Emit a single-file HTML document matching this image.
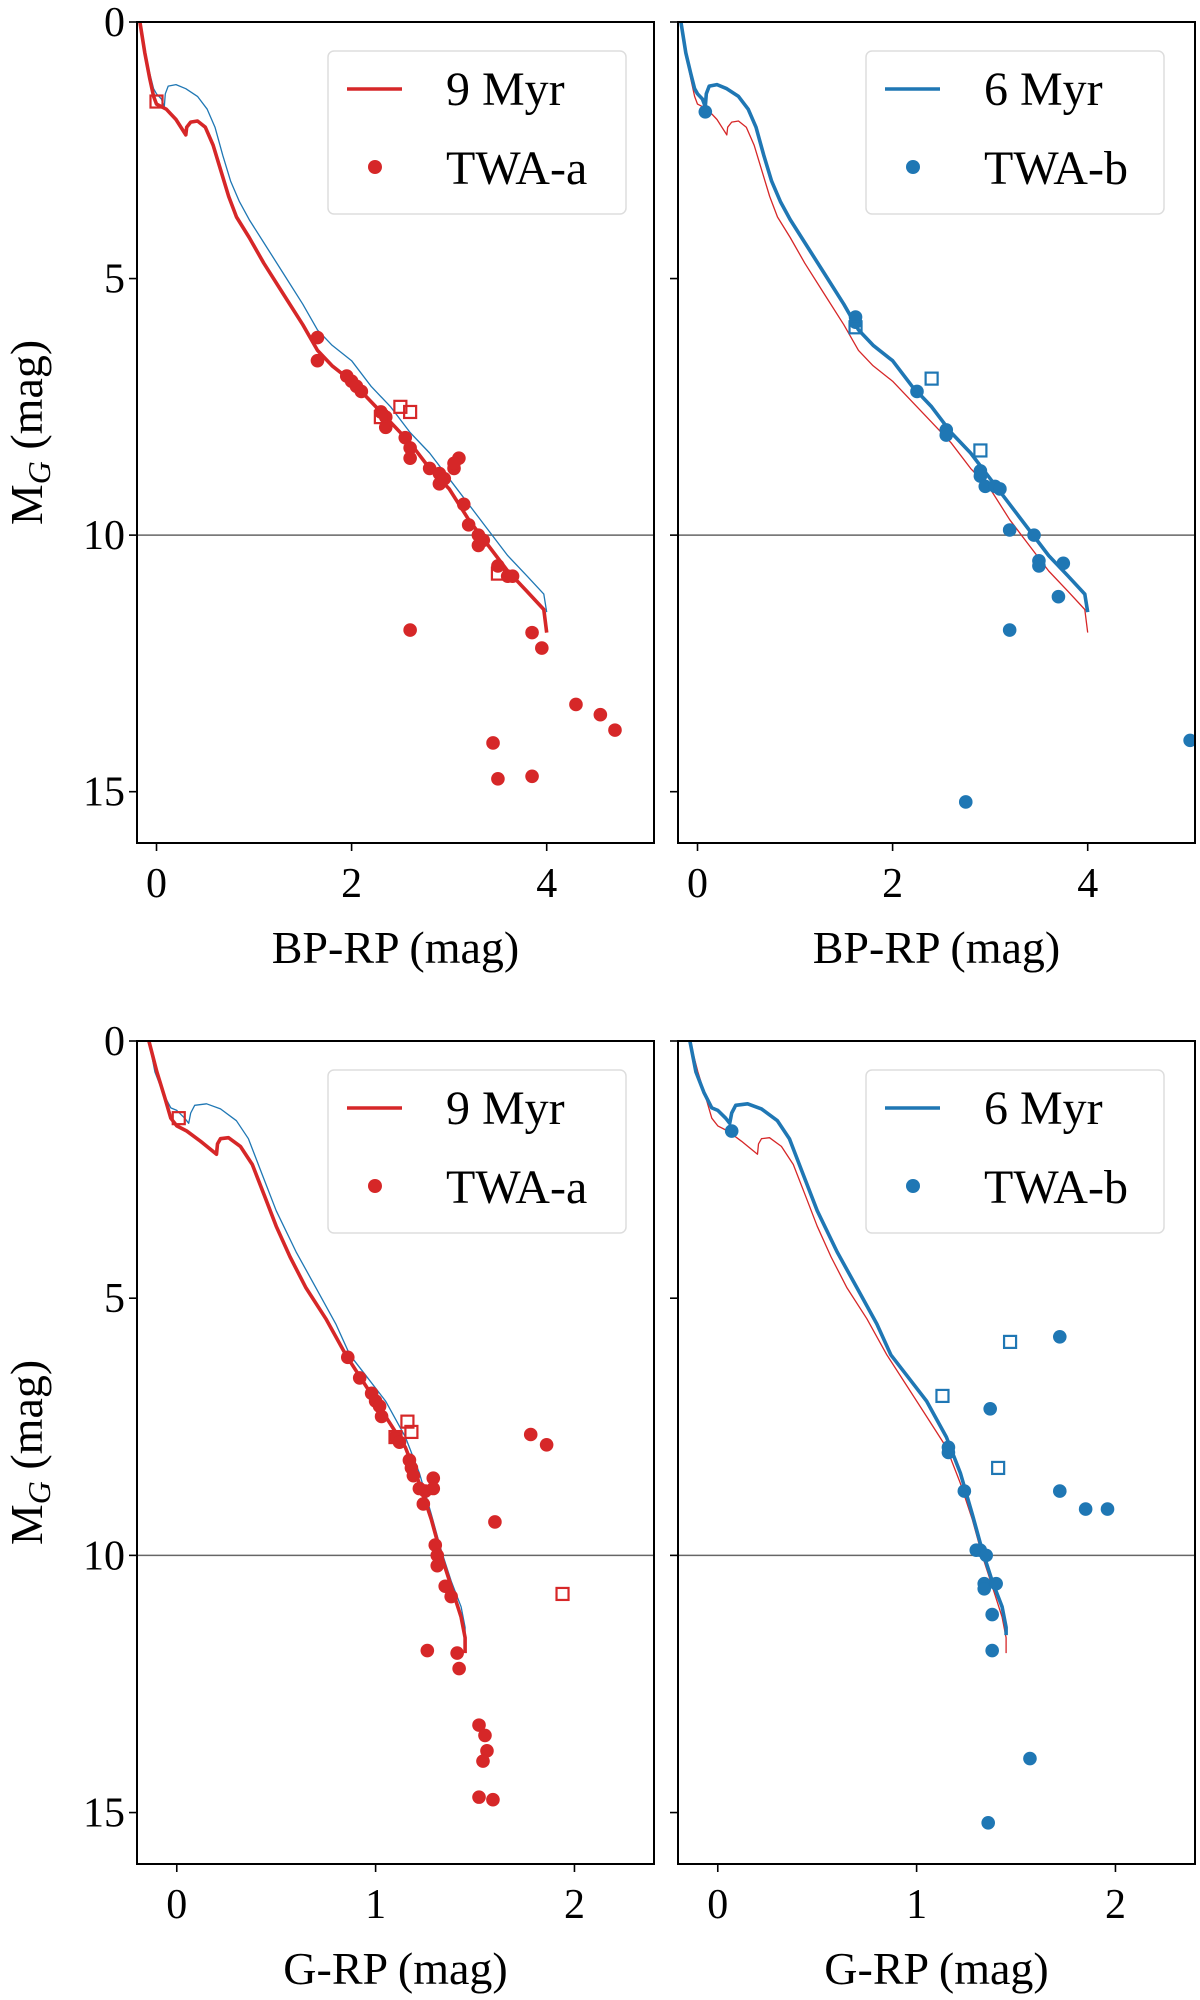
<!DOCTYPE html>
<html><head><meta charset="utf-8"><style>
html,body{margin:0;padding:0;background:#fff;}
svg{display:block;}
svg text{font-family:"Liberation Serif","DejaVu Serif",serif;}
</style></head><body>
<svg id="fig" width="1200" height="2000" viewBox="0 0 1200 2000" font-family="Liberation Serif, DejaVu Serif, serif" xmlns="http://www.w3.org/2000/svg"></svg>
<script>
// ---- data ----
const bprpRedDots=[[1.65,6.15],[1.65,6.6],[1.95,6.9],[2.0,7.0],[2.05,7.1],[2.1,7.2],[2.3,7.6],[2.35,7.7],[2.35,7.9],[2.55,8.1],[2.6,8.3],[2.6,8.5],[2.8,8.7],[2.9,8.8],[2.9,9.0],[2.95,8.9],[3.05,8.7],[3.1,8.5],[3.05,8.6],[3.15,9.4],[3.2,9.8],[3.3,10.0],[3.3,10.2],[3.35,10.1],[3.5,10.6],[3.6,10.8],[3.65,10.8],[2.6,11.85],[3.85,11.9],[3.95,12.2],[4.3,13.3],[4.55,13.5],[4.7,13.8],[3.45,14.05],[3.5,14.75],[3.85,14.7]];
const bprpRedSquares=[[0.0,1.55],[2.3,7.7],[2.5,7.5],[2.6,7.6],[3.5,10.75]];
const bprpBlueDots=[[0.08,1.75],[1.62,5.75],[1.62,5.85],[2.25,7.2],[2.55,7.95],[2.55,8.05],[2.9,8.75],[2.9,8.85],[2.95,9.05],[3.05,9.05],[3.1,9.1],[3.2,9.9],[3.45,10.0],[3.5,10.5],[3.5,10.6],[3.7,11.2],[3.75,10.55],[3.2,11.85],[2.75,15.2],[5.05,14.0]];
const bprpBlueSquares=[[1.62,5.95],[2.4,6.95],[2.9,8.35]];
const grpRedDots=[[0.86,6.15],[0.92,6.55],[0.98,6.85],[1.0,7.0],[1.02,7.1],[1.03,7.3],[1.1,7.7],[1.12,7.8],[1.17,8.15],[1.18,8.3],[1.19,8.45],[1.22,8.7],[1.25,8.75],[1.24,9.0],[1.29,8.5],[1.29,8.7],[1.3,9.8],[1.31,10.0],[1.31,10.2],[1.35,10.6],[1.38,10.8],[1.26,11.85],[1.41,11.9],[1.42,12.2],[1.52,13.3],[1.55,13.5],[1.56,13.8],[1.54,14.0],[1.52,14.7],[1.59,14.75],[1.78,7.65],[1.86,7.85],[1.6,9.35]];
const grpRedSquares=[[0.01,1.5],[1.1,7.7],[1.16,7.4],[1.18,7.6],[1.94,10.75]];
const grpBlueDots=[[0.07,1.75],[1.16,7.9],[1.16,8.0],[1.24,8.75],[1.3,9.9],[1.32,9.9],[1.35,10.0],[1.34,10.55],[1.34,10.65],[1.4,10.55],[1.38,11.15],[1.38,11.85],[1.37,7.15],[1.72,5.75],[1.72,8.75],[1.85,9.1],[1.96,9.1],[1.57,13.95],[1.36,15.2]];
const grpBlueSquares=[[1.13,6.9],[1.47,5.85],[1.41,8.3]];
const iso9bprp=[[-0.17,0],[-0.12,0.6],[-0.07,1.1],[-0.03,1.45],[0.0,1.6],[0.1,1.7],[0.2,1.9],[0.3,2.2],[0.31,2.05],[0.35,1.95],[0.42,1.93],[0.5,2.05],[0.58,2.4],[0.66,2.9],[0.74,3.4],[0.82,3.8],[0.95,4.2],[1.1,4.7],[1.3,5.3],[1.5,5.9],[1.65,6.4],[1.8,6.7],[2.0,7.0],[2.2,7.4],[2.4,7.8],[2.6,8.2],[2.8,8.7],[3.0,9.1],[3.2,9.7],[3.4,10.2],[3.6,10.7],[3.8,11.1],[3.97,11.45],[4.0,11.9]];
const iso6bprp=[[-0.17,0],[-0.12,0.6],[-0.07,1.0],[-0.03,1.3],[0.0,1.4],[0.05,1.5],[0.08,1.65],[0.09,1.4],[0.12,1.25],[0.2,1.22],[0.3,1.3],[0.42,1.45],[0.52,1.7],[0.6,2.05],[0.68,2.6],[0.76,3.1],[0.85,3.5],[0.95,3.85],[1.1,4.3],[1.3,4.9],[1.5,5.5],[1.65,6.0],[1.8,6.3],[2.0,6.6],[2.2,7.1],[2.4,7.5],[2.6,8.0],[2.8,8.4],[3.0,8.9],[3.2,9.4],[3.4,9.9],[3.6,10.4],[3.8,10.8],[3.97,11.15],[4.0,11.5]];
const iso9grp=[[-0.14,0],[-0.1,0.6],[-0.06,1.1],[-0.03,1.5],[0.0,1.65],[0.05,1.75],[0.12,1.95],[0.2,2.2],[0.205,2.0],[0.22,1.9],[0.26,1.88],[0.32,2.05],[0.38,2.4],[0.44,3.0],[0.5,3.6],[0.57,4.2],[0.65,4.8],[0.75,5.4],[0.85,6.1],[0.95,6.7],[1.05,7.3],[1.15,7.9],[1.22,8.6],[1.28,9.3],[1.33,10.0],[1.38,10.6],[1.43,11.2],[1.45,11.6],[1.45,11.9]];
const iso6grp=[[-0.14,0],[-0.11,0.6],[-0.07,1.0],[-0.03,1.3],[0.0,1.35],[0.04,1.5],[0.06,1.6],[0.07,1.4],[0.09,1.25],[0.15,1.22],[0.22,1.32],[0.3,1.55],[0.36,1.9],[0.42,2.5],[0.5,3.3],[0.6,4.1],[0.7,4.8],[0.8,5.5],[0.87,6.1],[0.95,6.5],[1.05,7.0],[1.15,7.7],[1.22,8.4],[1.28,9.2],[1.33,9.9],[1.38,10.5],[1.43,11.0],[1.45,11.4],[1.45,11.55]];
const yTicks=[0,5,10,15];
const bprpTicks=[0,2,4];
const grpTicks=[0,1,2];

const RED="#d62728",BLUE="#1f77b4";
const FONT="Liberation Serif, DejaVu Serif, serif";
const NS="http://www.w3.org/2000/svg";
const svg=document.getElementById('fig');
function mk(tag,attrs,parent){const e=document.createElementNS(NS,tag);for(const k in attrs)e.setAttribute(k,attrs[k]);if(tag==='text')e.setAttribute('font-family',FONT);(parent||svg).appendChild(e);return e;}

function panel(p){
  const g=mk('g',{});
  
  
  const X=v=>p.x0+(v-p.xmin)/(p.xmax-p.xmin)*(p.x1-p.x0);
  const Y=v=>p.y0+(v-0)/16*(p.y1-p.y0);
  const clip='c'+p.name;
  const cp=mk('clipPath',{id:clip},g);mk('rect',{x:p.x0,y:p.y0,width:p.x1-p.x0,height:p.y1-p.y0},cp);
  const pg=mk('g',{'clip-path':'url(#'+clip+')'},g);
  const hl=mk('line',{x1:p.x0,x2:p.x1,y1:Y(10),y2:Y(10),stroke:'#666','stroke-width':1.6},pg);
  
  
  function iso(data,color,w,name){
    const d=data.map((q,i)=>(i?'L':'M')+X(q[0]).toFixed(1)+' '+Y(q[1]).toFixed(1)).join(' ');
    const e=mk('path',{d:d,fill:'none',stroke:color,'stroke-width':w,'stroke-linejoin':'round'},pg);
    
    
  }
  iso(p.thinIso,p.thinColor,1.3,'isochrone-thin');
  iso(p.thickIso,p.color,3.6,'isochrone-thick');
  p.dots.forEach(q=>{const e=mk('circle',{cx:X(q[0]),cy:Y(q[1]),r:6.8,fill:p.color},pg);
    
    });
  p.squares.forEach(q=>{const e=mk('rect',{x:X(q[0])-6,y:Y(q[1])-6,width:12,height:12,fill:'none',stroke:p.color,'stroke-width':2.2},pg);
    
    });
  const fr=mk('rect',{x:p.x0,y:p.y0,width:p.x1-p.x0,height:p.y1-p.y0,fill:'none',stroke:'#000','stroke-width':2},g);
  
  
  yTicks.forEach(t=>{mk('line',{x1:p.x0-8,x2:p.x0,y1:Y(t),y2:Y(t),stroke:'#000','stroke-width':1.6},g);
    if(p.ylabels){const e=mk('text',{x:p.x0-12,y:Y(t)+14,'text-anchor':'end','font-size':42},g);e.textContent=t;
      
      }});
  p.xt.forEach(t=>{mk('line',{x1:X(t),x2:X(t),y1:p.y1,y2:p.y1+8,stroke:'#000','stroke-width':1.6},g);
    const e=mk('text',{x:X(t),y:p.y1+54,'text-anchor':'middle','font-size':42},g);e.textContent=t;
    
    });
  const xl=mk('text',{x:(p.x0+p.x1)/2,y:p.y1+120,'text-anchor':'middle','font-size':46},g);xl.textContent=p.xlabel;
  
  
  if(p.ylabels){const yl=mk('text',{transform:'translate(42,'+((p.y0+p.y1)/2)+') rotate(-90)','text-anchor':'middle','font-size':46},g);
    yl.innerHTML='M<tspan font-size="32" font-style="italic" dy="8">G</tspan><tspan dy="-8"> (mag)</tspan>';
    
    }
  const lx=p.x0+p.legX,ly=p.y0+29;
  const lg=mk('g',{},g);
  
  
  mk('rect',{x:lx,y:ly,width:298,height:163,rx:6,fill:'#fff',stroke:'#ddd','stroke-width':1.5},lg);
  mk('line',{x1:lx+19,x2:lx+74,y1:ly+38,y2:ly+38,stroke:p.color,'stroke-width':3.6},lg);
  const t1=mk('text',{x:lx+118,y:ly+54,'font-size':48},lg);t1.textContent=p.leg1;
  
  
  mk('circle',{cx:lx+47,cy:ly+116,r:7,fill:p.color},lg);
  const t2=mk('text',{x:lx+118,y:ly+133,'font-size':48},lg);t2.textContent=p.leg2;
  
  
}
const L={x0:137,x1:654},R={x0:678,x1:1195};
const T={y0:22,y1:843},B={y0:1041,y1:1864};
panel({name:'panel-bprp-twa-a',...L,...T,xmin:-0.2,xmax:5.1,xt:bprpTicks,xlabel:'BP-RP (mag)',ylabels:true,color:RED,thinColor:BLUE,thickIso:iso9bprp,thinIso:iso6bprp,dots:bprpRedDots,squares:bprpRedSquares,leg1:'9 Myr',leg2:'TWA-a',legX:191});
panel({name:'panel-bprp-twa-b',...R,...T,xmin:-0.2,xmax:5.1,xt:bprpTicks,xlabel:'BP-RP (mag)',ylabels:false,color:BLUE,thinColor:RED,thickIso:iso6bprp,thinIso:iso9bprp,dots:bprpBlueDots,squares:bprpBlueSquares,leg1:'6 Myr',leg2:'TWA-b',legX:188});
panel({name:'panel-grp-twa-a',...L,...B,xmin:-0.2,xmax:2.4,xt:grpTicks,xlabel:'G-RP (mag)',ylabels:true,color:RED,thinColor:BLUE,thickIso:iso9grp,thinIso:iso6grp,dots:grpRedDots,squares:grpRedSquares,leg1:'9 Myr',leg2:'TWA-a',legX:191});
panel({name:'panel-grp-twa-b',...R,...B,xmin:-0.2,xmax:2.4,xt:grpTicks,xlabel:'G-RP (mag)',ylabels:false,color:BLUE,thinColor:RED,thickIso:iso6grp,thinIso:iso9grp,dots:grpBlueDots,squares:grpBlueSquares,leg1:'6 Myr',leg2:'TWA-b',legX:188});
</script>
</body></html>
